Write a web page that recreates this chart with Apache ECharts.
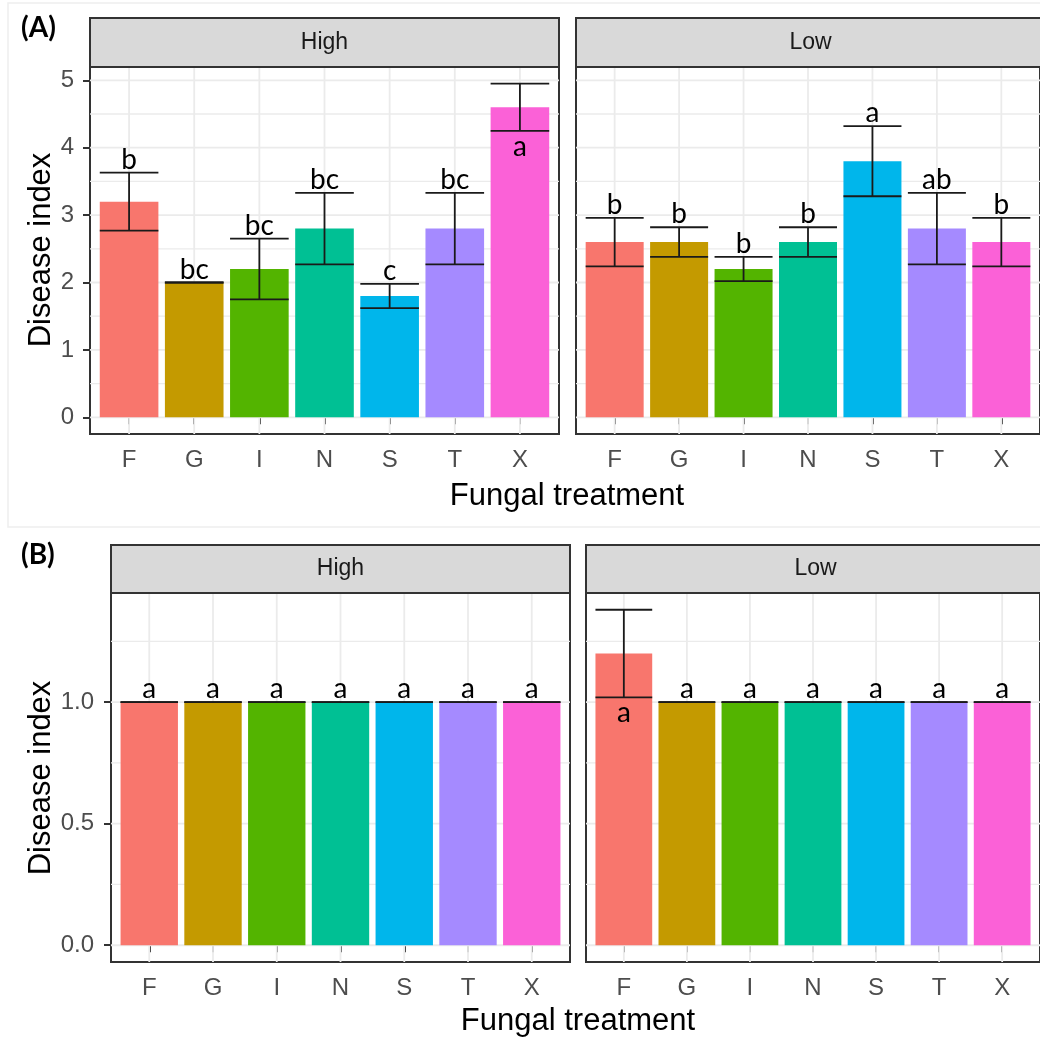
<!DOCTYPE html>
<html>
<head>
<meta charset="utf-8">
<title>Disease index by fungal treatment</title>
<script src="https://cdn.jsdelivr.net/npm/echarts@6/dist/echarts.min.js"></script>
<style>
  html, body { margin: 0; padding: 0; background: #fff; }
  #chart { width: 1040px; height: 1039px; }
</style>
</head>
<body>
<div id="chart"></div>
<script>
// Fungal treatments (x axis of every facet)
const categories = ['F', 'G', 'I', 'N', 'S', 'T', 'X'];

// Part A: disease index, mean and standard error, with significance letters
const aHighMean = [3.2, 2.0, 2.2, 2.8, 1.8, 2.8, 4.6];
const aHighSe = [0.43, 0, 0.45, 0.53, 0.18, 0.53, 0.35];
const aHighLetters = ['b', 'bc', 'bc', 'bc', 'c', 'bc', 'a'];
const aLowMean = [2.6, 2.6, 2.2, 2.6, 3.8, 2.8, 2.6];
const aLowSe = [0.36, 0.22, 0.18, 0.22, 0.52, 0.53, 0.36];
const aLowLetters = ['b', 'b', 'b', 'b', 'a', 'ab', 'b'];

// Part B
const bHighMean = [1, 1, 1, 1, 1, 1, 1];
const bHighSe = [0, 0, 0, 0, 0, 0, 0];
const bHighLetters = ['a', 'a', 'a', 'a', 'a', 'a', 'a'];
const bLowMean = [1.2, 1, 1, 1, 1, 1, 1];
const bLowSe = [0.18, 0, 0, 0, 0, 0, 0];
const bLowLetters = ['a', 'a', 'a', 'a', 'a', 'a', 'a'];

// Y tick labels
const aTicks = [0, 1, 2, 3, 4, 5];
const aMinor = [0.5, 1.5, 2.5, 3.5, 4.5];
const bTicks = [0, 0.5, 1.0];
const bMinor = [0.25, 0.75, 1.25];

// ggplot default hue palette for 7 levels
const palette = ['#F8766D', '#C49A00', '#53B400', '#00C094', '#00B6EB', '#A58AFF', '#FB61D7'];

const X_MIN = 0.4, X_MAX = categories.length + 0.6, HALF_BAR = 0.45;
const xPos = categories.map((c, i) => i + 1);

function yRange(means, ses) {
  let hi = 0;
  means.forEach((m, i) => { hi = Math.max(hi, m + ses[i]); });
  const pad = hi * 0.05;
  return { min: -pad, max: hi + pad, top: hi };
}

const partA = yRange(aHighMean.concat(aLowMean), aHighSe.concat(aLowSe));
const partB = yRange(bHighMean.concat(bLowMean), bHighSe.concat(bLowSe));

const facets = [
  { grid: { left: 90, top: 67, width: 469, height: 367 }, mean: aHighMean, se: aHighSe, letters: aHighLetters,
    range: partA, ticks: aTicks, minor: aMinor, fmt: v => String(v), showY: true, yMargin: 16 },
  { grid: { left: 576, top: 67, width: 469, height: 367 }, mean: aLowMean, se: aLowSe, letters: aLowLetters,
    range: partA, ticks: aTicks, minor: aMinor, fmt: v => String(v), showY: false, yMargin: 16 },
  { grid: { left: 111, top: 593, width: 459, height: 369 }, mean: bHighMean, se: bHighSe, letters: bHighLetters,
    range: partB, ticks: bTicks, minor: bMinor, fmt: v => v.toFixed(1), showY: true, yMargin: 17 },
  { grid: { left: 586, top: 593, width: 459, height: 369 }, mean: bLowMean, se: bLowSe, letters: bLowLetters,
    range: partB, ticks: bTicks, minor: bMinor, fmt: v => v.toFixed(1), showY: false, yMargin: 17 }
];

const AXIS_DARK = '#333333';
const TICK_TEXT = '#4D4D4D';
const GRID_LINE = '#EBEBEB';

const grids = [], xAxes = [], yAxes = [], series = [];

facets.forEach((f, k) => {
  grids.push(Object.assign({ show: true, borderColor: AXIS_DARK, borderWidth: 2, backgroundColor: '#fff' }, f.grid));

  xAxes.push({
    type: 'value', gridIndex: k, min: X_MIN, max: X_MAX,
    axisLine: { show: false },
    splitLine: { show: false },
    axisTick: { show: true, length: 7, customValues: xPos, lineStyle: { color: AXIS_DARK, width: 2 } },
    axisLabel: { show: true, customValues: xPos, margin: 14, color: TICK_TEXT,
      fontFamily: 'Liberation Sans', fontSize: 24, formatter: v => categories[Math.round(v) - 1] || '' }
  });

  yAxes.push({
    type: 'value', gridIndex: k, min: f.range.min, max: f.range.max,
    axisLine: { show: false },
    splitLine: { show: false },
    axisTick: { show: f.showY, length: 7, customValues: f.ticks, lineStyle: { color: AXIS_DARK, width: 2 } },
    axisLabel: { show: f.showY, customValues: f.ticks, margin: f.yMargin, color: TICK_TEXT,
      fontFamily: 'Liberation Sans', fontSize: 24, formatter: f.fmt }
  });

  // background grid lines: [value, kind] kind 0 = major y, 1 = minor y, 2 = major x
  const lines = f.ticks.map(v => [v, 0]).concat(f.minor.map(v => [v, 1])).concat(xPos.map(v => [v, 2]));
  series.push({
    type: 'custom', xAxisIndex: k, yAxisIndex: k, z: 1, silent: true,
    data: lines,
    renderItem: function (params, api) {
      const v = api.value(0), kind = api.value(1);
      let p1, p2;
      if (kind === 2) {
        p1 = api.coord([v, f.range.min]); p2 = api.coord([v, f.range.max]);
      } else {
        p1 = api.coord([X_MIN, v]); p2 = api.coord([X_MAX, v]);
      }
      return { type: 'line', shape: { x1: p1[0], y1: p1[1], x2: p2[0], y2: p2[1] },
        style: { stroke: GRID_LINE, lineWidth: kind === 1 ? 1.3 : 1.8 } };
    }
  });

  // bars
  series.push({
    type: 'custom', xAxisIndex: k, yAxisIndex: k, z: 2, silent: true,
    data: f.mean.map((m, i) => [xPos[i], m]),
    renderItem: function (params, api) {
      const x = api.value(0), y = api.value(1);
      const a = api.coord([x - HALF_BAR, y]);
      const b = api.coord([x + HALF_BAR, 0]);
      return { type: 'rect', shape: { x: a[0], y: a[1], width: b[0] - a[0], height: b[1] - a[1] },
        style: { fill: palette[params.dataIndex] } };
    }
  });

  // error bars with significance letters
  series.push({
    type: 'custom', xAxisIndex: k, yAxisIndex: k, z: 3, silent: true,
    data: f.mean.map((m, i) => [xPos[i], m, f.se[i]]),
    renderItem: function (params, api) {
      const x = api.value(0), m = api.value(1), s = api.value(2);
      const top = api.coord([x, m + s]);
      const bot = api.coord([x, m - s]);
      const l = api.coord([x - HALF_BAR, m])[0];
      const r = api.coord([x + HALF_BAR, m])[0];
      const st = { stroke: '#1A1A1A', lineWidth: 1.8 };
      const below = Math.abs(m + s - f.range.top) < 1e-9;
      return {
        type: 'group',
        children: [
          { type: 'line', shape: { x1: top[0], y1: top[1], x2: bot[0], y2: bot[1] }, style: st },
          { type: 'line', shape: { x1: l, y1: top[1], x2: r, y2: top[1] }, style: st },
          { type: 'line', shape: { x1: l, y1: bot[1], x2: r, y2: bot[1] }, style: st },
          { type: 'text', x: top[0], y: below ? bot[1] + 2 : top[1] + 1,
            style: { text: f.letters[params.dataIndex], fill: '#000', fontFamily: 'Lato', fontSize: 28,
              align: 'center', verticalAlign: below ? 'top' : 'bottom' } }
        ]
      };
    }
  });
});

// Facet strips, panel tags and axis titles
const graphics = [];
function strip(left, top, width, height, label) {
  graphics.push({ type: 'rect', shape: { x: left, y: top, width: width, height: height },
    style: { fill: '#D9D9D9', stroke: AXIS_DARK, lineWidth: 2 }, z: 10 });
  graphics.push({ type: 'text', x: left + width / 2, y: top + height / 2,
    style: { text: label, fill: '#1A1A1A', fontFamily: 'Liberation Sans', fontSize: 23, align: 'center', verticalAlign: 'middle' }, z: 11 });
}

// light outline around part A
graphics.push({ type: 'rect', shape: { x: 8, y: 3, width: 1040, height: 524 },
  style: { fill: null, stroke: '#EEEEEE', lineWidth: 1.5 }, z: 0 });

strip(90, 18, 469, 49, 'High');
strip(576, 18, 469, 49, 'Low');
strip(111, 545, 459, 48, 'High');
strip(586, 545, 459, 48, 'Low');

function tag(x, y, text) {
  graphics.push({ type: 'text', x: x, y: y,
    style: { text: text, fill: '#000', fontFamily: 'Lato', fontWeight: 'bold', fontSize: 28, align: 'left', verticalAlign: 'top' }, z: 11 });
}
tag(21, 14, '(A)');
tag(21, 541, '(B)');

function title(x, y, text, rot) {
  graphics.push({ type: 'text', x: x, y: y, rotation: rot || 0,
    style: { text: text, fill: '#000', fontFamily: 'Liberation Sans', fontSize: 31, align: 'center', verticalAlign: 'middle' }, z: 11 });
}
title(567, 496, 'Fungal treatment');
title(578, 1021, 'Fungal treatment');
title(41, 250, 'Disease index', Math.PI / 2);
title(41, 778, 'Disease index', Math.PI / 2);

const chart = echarts.init(document.getElementById('chart'), null, { renderer: 'canvas' });
chart.setOption({
  animation: false,
  backgroundColor: '#fff',
  grid: grids,
  xAxis: xAxes,
  yAxis: yAxes,
  series: series,
  graphic: graphics
});
</script>
</body>
</html>
